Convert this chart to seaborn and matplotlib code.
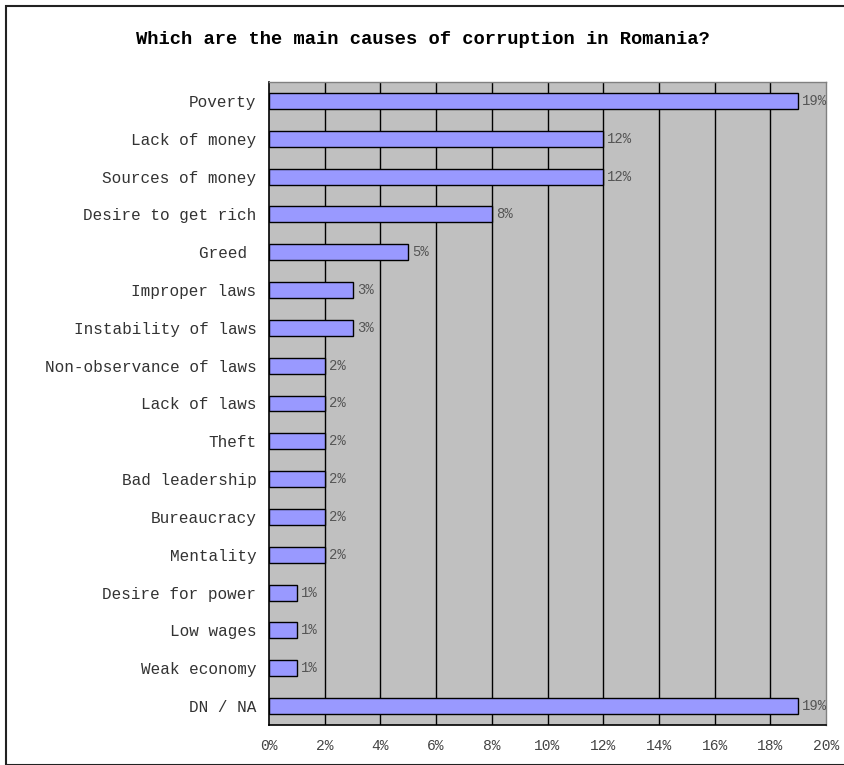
import matplotlib
matplotlib.use("Agg")
import matplotlib.pyplot as plt
import seaborn as sns
import numpy as np
import pandas as pd
from matplotlib.patches import Rectangle

categories = ["Poverty", "Lack of money", "Sources of money", "Desire to get rich",
              "Greed ", "Improper laws", "Instability of laws", "Non-observance of laws",
              "Lack of laws", "Theft", "Bad leadership", "Bureaucracy", "Mentality",
              "Desire for power", "Low wages", "Weak economy", "DN / NA"]
values = [19, 12, 12, 8, 5, 3, 3, 2, 2, 2, 2, 2, 2, 1, 1, 1, 19]
xticks = [0, 2, 4, 6, 8, 10, 12, 14, 16, 18, 20]
xtick_labels = [f"{v}%" for v in xticks]
title = "Which are the main causes of corruption in Romania?"

sns.set_style("white")
plt.rcParams['font.family'] = ['Liberation Mono', 'DejaVu Sans Mono']

df = pd.DataFrame({"cause": categories, "pct": values})

fig = plt.figure(figsize=(8.45, 7.65), dpi=100)
ax = fig.add_axes([269/845, 1-725/765, (826-269)/845, (725-82)/765])

sns.barplot(data=df, x="pct", y="cause", orient="h", color="#9999FF",
            saturation=1, width=0.42, edgecolor="black", linewidth=1.0, ax=ax, zorder=3)

ax.set_facecolor("#C0C0C0")
ax.set_xlim(0, 20)
ax.set_ylim(16.5, -0.5)
ax.set_xticks(xticks)
ax.set_xticklabels(xtick_labels, fontsize=10.5, color="#444444")
ax.set_xlabel("")
ax.set_ylabel("")
ax.tick_params(axis="y", which="major", length=0, labelsize=11.5, labelcolor="#333333", pad=9)
ax.set_yticks(np.arange(-0.5, 17, 1), minor=True)
ax.tick_params(axis="y", which="minor", length=5, width=1, color="black", direction="out")
ax.tick_params(axis="x", which="major", length=5, width=1, color="black", direction="out", pad=5)

ax.grid(False)
for v in xticks[1:-1]:
    ax.axvline(v, color="black", linewidth=1, zorder=1)

for side in ["top", "right"]:
    ax.spines[side].set_color("#808080")
    ax.spines[side].set_linewidth(1)
for side in ["left", "bottom"]:
    ax.spines[side].set_color("black")
    ax.spines[side].set_linewidth(1.2)
    ax.spines[side].set_visible(True)

for i, v in enumerate(values):
    ax.text(v + 0.15, i, f"{v}%", va="center", ha="left", fontsize=10, color="#555555", zorder=4)

fig.text(0.5, 1-40/765, title, ha="center", va="center", fontsize=13.5, fontweight="bold", color="black")

fig.patches.append(Rectangle((6/845, 0), 2, 1-6/765, transform=fig.transFigure,
                             fill=False, edgecolor="#222222", linewidth=1.5))

fig.savefig("out.png", dpi=100)
